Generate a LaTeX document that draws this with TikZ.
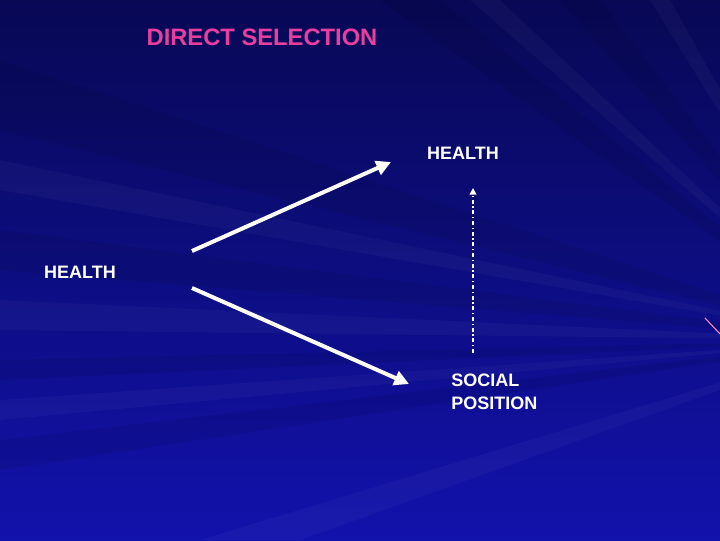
\documentclass[tikz,border=0pt]{standalone}
\usepackage{fontspec}
\setmainfont{Liberation Sans}
\usetikzlibrary{arrows.meta}

\definecolor{deepnavy}{RGB}{8,8,85}
\definecolor{slideblue}{RGB}{18,18,172}
\definecolor{titlepink}{RGB}{232,62,160}

\tikzset{
    label text/.style={text=white, font=\bfseries\fontsize{13.5}{16}\selectfont, inner sep=0pt},
    big arrow/.style={draw=white, line width=3pt, -{Triangle[length=11pt, width=11pt]}},
    dotted arrow/.style={draw=white, line width=1.3pt, dash pattern=on 3pt off 2pt on 1pt off 2pt, -{Triangle[length=5pt, width=5pt]}},
    light ray/.style={fill=white, opacity=0.03},
    dark ray/.style={fill=black, opacity=0.07}
}

\begin{document}
\begin{tikzpicture}[x=0.75pt, y=-0.75pt]
    \useasboundingbox (0,0) rectangle (720,540);
    \shade[shading angle=200, top color=deepnavy, bottom color=slideblue] (0,0) rectangle (720,540);

    % background rays
    \coordinate (O) at (860, 340);
    \fill[dark ray]  (O) -- (380,0) -- (440,0) -- cycle;
    \fill[light ray] (O) -- (470,0) -- (500,0) -- cycle;
    \fill[dark ray]  (O) -- (560,0) -- (600,0) -- cycle;
    \fill[light ray] (O) -- (650,0) -- (670,0) -- cycle;
    \fill[dark ray]  (O) -- (0,60)  -- (0,130) -- cycle;
    \fill[light ray] (O) -- (0,160) -- (0,190) -- cycle;
    \fill[dark ray]  (O) -- (0,230) -- (0,270) -- cycle;
    \fill[light ray] (O) -- (0,300) -- (0,330) -- cycle;
    \fill[dark ray]  (O) -- (0,360) -- (0,380) -- cycle;
    \fill[light ray] (O) -- (0,400) -- (0,420) -- cycle;
    \fill[dark ray]  (O) -- (0,440) -- (0,470) -- cycle;
    \fill[light ray] (O) -- (200,540) -- (300,540) -- cycle;
    \draw[titlepink!60, line width=0.8pt] (705,318) -- (720,334);

    %-----

    \node (T) at (262, 37) [text=titlepink, font=\bfseries\fontsize{17.8}{21}\selectfont, inner sep=0pt] {DIRECT SELECTION};

    \node (H1) at ( 80, 272) [label text] {HEALTH};
    \node (H2) at (463, 153) [label text] {HEALTH};
    \node (SP) at (451, 392) [label text, anchor=west, align=left] {SOCIAL\\[1pt]POSITION};

    %-----

    \coordinate (up0)  at (192, 251);
    \coordinate (up1)  at (391, 162);
    \coordinate (dn0)  at (192, 288);
    \coordinate (dn1)  at (409, 384);
    \coordinate (sp0)  at (473, 353);
    \coordinate (sp1)  at (473, 188);

    \draw (up0) edge[big arrow] (up1);
    \draw (dn0) edge[big arrow] (dn1);
    \draw (sp0) edge[dotted arrow] (sp1);
\end{tikzpicture}
\end{document}
